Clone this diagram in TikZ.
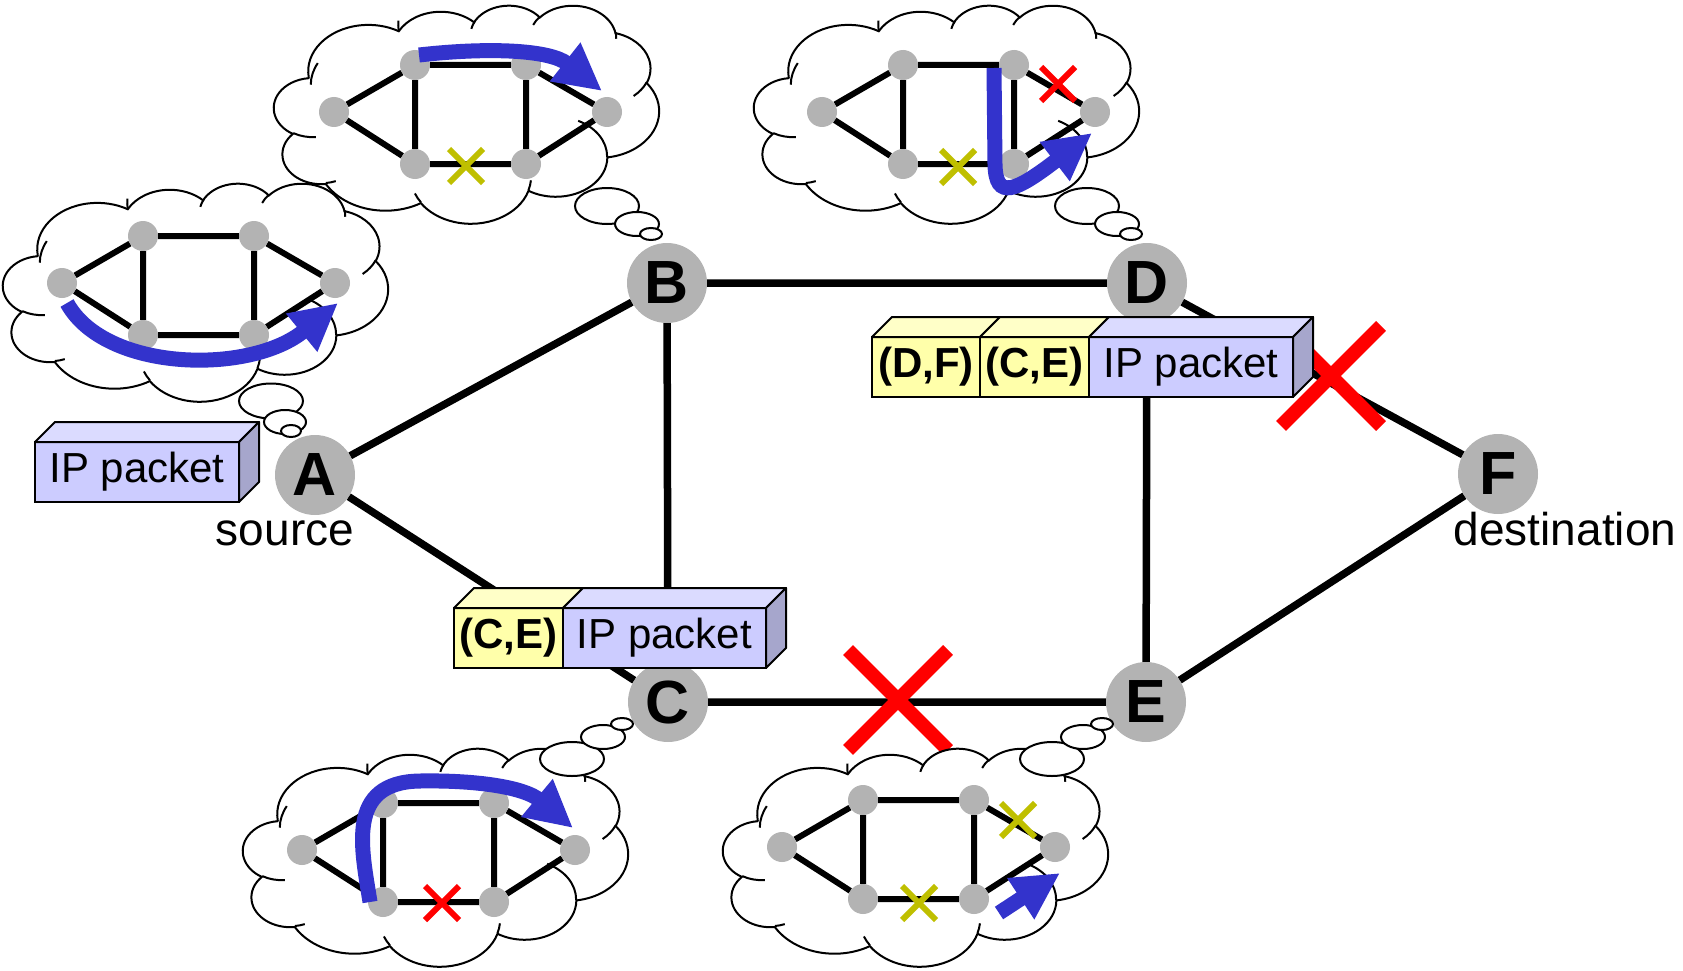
\documentclass[tikz,border=0pt]{standalone}
\usepackage{fontspec}
\setmainfont{Liberation Sans}
\usetikzlibrary{arrows.meta}
\definecolor{nodegray}{RGB}{179,179,179}
\definecolor{pktfront}{RGB}{204,204,255}
\definecolor{pkttop}{RGB}{219,219,255}
\definecolor{pktside}{RGB}{166,166,204}
\definecolor{hdrfront}{RGB}{255,255,170}
\definecolor{hdrtop}{RGB}{255,255,200}
\definecolor{arrowblue}{RGB}{51,51,204}
\definecolor{xolive}{RGB}{191,191,0}
\tikzset{
  mainnode/.style={circle, fill=nodegray, minimum size=80pt, inner sep=0pt, font=\fontsize{61}{61}\selectfont\bfseries},
  mainedge/.style={line width=7.5pt},
  mininode/.style={circle, fill=nodegray, minimum size=30pt, inner sep=0pt},
  miniedge/.style={line width=6pt},
  pkt/.style={draw, line width=2pt, fill=pktfront, minimum height=60pt, inner sep=0pt, outer sep=0pt, font=\fontsize{42}{42}\selectfont},
  hdr/.style={pkt, fill=hdrfront, font=\fontsize{42}{42}\selectfont\bfseries},
  face/.style={draw, line width=2pt, line join=round},
  cloudline/.style={line width=2pt},
  bubble/.style={draw, fill=white, line width=2pt},
  bluearrow/.style={draw=arrowblue, line width=15pt, -{Triangle[width=46pt,length=47pt]}},
  bigx/.style={red, line width=14pt},
  redx/.style={red, line width=6pt},
  olivex/.style={xolive, line width=6pt},
  lbl/.style={font=\fontsize{46}{46}\selectfont, anchor=base},
}
% top face of a box node
\newcommand\topface[2]{\draw[face, fill=#2] (#1.north west) -- ++(20,-20) -- ([shift={(20,-20)}]#1.north east) -- (#1.north east) -- cycle;}
% side face of a box node
\newcommand\sideface[2]{\draw[face, fill=#2] (#1.north east) -- ++(20,-20) -- ([shift={(20,-20)}]#1.south east) -- (#1.south east) -- cycle;}
% cross mark: x, y, half size, style
\newcommand\xmark[4]{\draw[#4] (#1,#2) ++(-#3,-#3) -- ++(2*#3,2*#3) (#1,#2) ++(-#3,#3) -- ++(2*#3,-2*#3);}
% thought cloud with top-left corner at (#1,#2)
\newcommand\thoughtcloud[2]{%
  \begin{scope}[shift={(#1,#2)}, x=0.08912pt, y=-0.05046pt]
    \draw[cloudline, fill=white] (390,1437)
      arc[start angle=172.25, end angle=300.35, x radius=675.3, y radius=919.0]
      arc[start angle=-152.02, end angle=-45.47, x radius=533.3, y radius=726.7]
      arc[start angle=-153.48, end angle=-37.32, x radius=436.5, y radius=594.5]
      arc[start angle=-139.71, end angle=-10.21, x radius=485.7, y radius=659.5]
      arc[start angle=-74.78, end angle=23.21, x radius=533.3, y radius=727.3]
      arc[start angle=-37.53, end angle=81.86, x radius=677.5, y radius=922.0]
      arc[start angle=0.46, end angle=121.98, x radius=578.5, y radius=786.7]
      arc[start angle=16.84, end angle=146.24, x radius=675.2, y radius=921.5]
      arc[start angle=59.03, end angle=150.16, x radius=772.0, y radius=1054.3]
      arc[start angle=83.30, end angle=223.09, x radius=436.0, y radius=591.8]
      arc[start angle=120.38, end angle=264.11, x radius=434.5, y radius=594.5]
      -- cycle;
    \draw[cloudline]
      (469.3,2617.7) arc[start angle=85.54, end angle=120.38, x radius=434.5, y radius=594.5]
      (692.8,3489.9) arc[start angle=68.25, end angle=83.30, x radius=436.0, y radius=591.8]
      (1647.8,3909.0) arc[start angle=146.24, end angle=158.48, x radius=675.2, y radius=921.5]
      (2882.7,3475.1) arc[start angle=4.74, end angle=16.84, x radius=675.2, y radius=921.5]
      (3412.9,2295.4) arc[start angle=-64.00, end angle=0.46, x radius=578.5, y radius=786.7]
      (4179.8,1535.4) arc[start angle=23.21, end angle=49.67, x radius=533.3, y radius=727.3]
      (3832.4,542.6) arc[start angle=-10.21, end angle=0.82, x radius=485.7, y radius=659.5]
      (2907.8,395.2) arc[start angle=-156.28, end angle=-139.71, x radius=485.7, y radius=659.5]
      (2214.1,472.0) arc[start angle=-167.73, end angle=-153.48, x radius=436.5, y radius=594.5]
      (1400.0,519.2) arc[start angle=-187.75, end angle=-174.66, x radius=675.3, y radius=919.0]
      (412.7,1578.9) arc[start angle=180.17, end angle=207.91, x radius=675.3, y radius=919.0];
  \end{scope}}
% small network graph: prefix, position of left node
\newcommand\minigraph[3]{%
  \begin{scope}[shift={(#2,#3)}]
    \node[mininode] (#1a) at (0,0) {};
    \node[mininode] (#1b) at (81,-47) {};
    \node[mininode] (#1c) at (192,-47) {};
    \node[mininode] (#1d) at (273,0) {};
    \node[mininode] (#1e) at (192,52) {};
    \node[mininode] (#1f) at (81,52) {};
  \end{scope}
  \draw[miniedge] (#1a) -- (#1b) -- (#1c) -- (#1d) -- (#1e) -- (#1f) -- (#1a)
    (#1b) -- (#1f) (#1c) -- (#1e);}
\begin{document}
\begin{tikzpicture}[x=1pt, y=-1pt]
\useasboundingbox (0,0) rectangle (1683,971);
% main network
\node[mainnode] (A) at (315,475) {A};
\node[mainnode] (B) at (667,283) {B};
\node[mainnode] (C) at (668,702) {C};
\node[mainnode] (D) at (1147,283) {D};
\node[mainnode] (E) at (1146,702) {E};
\node[mainnode] (F) at (1498,474) {F};
\draw[mainedge] (A) -- (B) (A) -- (C) (B) -- (D) (B) -- (C) (C) -- (E)
  (D) -- (E) (D) -- (F) (E) -- (F);
\node[lbl] (src) at (285,545) {source};
\node[lbl] (dst) at (1565,545) {destination};
% failed links
\xmark{1331}{376}{50}{bigx}
\xmark{898}{700}{50}{bigx}
% packets
\node[pkt, minimum width=204pt] (p1) at (137,472) {IP packet};
\topface{p1}{pkttop}\sideface{p1}{pktside}
\node[hdr, minimum width=109pt] (r1) at (508.5,638) {(C,E)};
\node[pkt, minimum width=203pt] (r2) at (664.5,638) {IP packet};
\topface{r1}{hdrtop}\topface{r2}{pkttop}\sideface{r2}{pktside}
\node[hdr, minimum width=108pt] (q1) at (926,367) {(D,F)};
\node[hdr, minimum width=109pt] (q2) at (1034.5,367) {(C,E)};
\node[pkt, minimum width=204pt] (q3) at (1191,367) {IP packet};
\topface{q1}{hdrtop}\topface{q2}{hdrtop}\topface{q3}{pkttop}\sideface{q3}{pktside}
% clouds
\thoughtcloud{274}{5}
\thoughtcloud{754}{5}
\thoughtcloud{3}{183}
\thoughtcloud{243}{748}
\thoughtcloud{723}{748}
% thought bubbles
\draw[bubble] (271,401) ellipse [x radius=32, y radius=17.5];
\draw[bubble] (285,422) ellipse [x radius=21, y radius=12];
\draw[bubble] (291,431) ellipse [x radius=10, y radius=6];
\draw[bubble] (607,206) ellipse [x radius=32, y radius=18];
\draw[bubble] (637,224) ellipse [x radius=22, y radius=12];
\draw[bubble] (651,234) ellipse [x radius=11, y radius=6];
\draw[bubble] (1087,206) ellipse [x radius=32, y radius=18];
\draw[bubble] (1117,224) ellipse [x radius=22, y radius=12];
\draw[bubble] (1131,234) ellipse [x radius=11, y radius=6];
\draw[bubble] (572,759) ellipse [x radius=32, y radius=17];
\draw[bubble] (603,737) ellipse [x radius=22, y radius=12];
\draw[bubble] (622,724) ellipse [x radius=11, y radius=6];
\draw[bubble] (1052,759) ellipse [x radius=32, y radius=17];
\draw[bubble] (1083,737) ellipse [x radius=22, y radius=12];
\draw[bubble] (1102,724) ellipse [x radius=11, y radius=6];
% graphs inside clouds
\minigraph{g1}{62}{283}
\minigraph{g2}{334}{112}
\minigraph{g3}{822}{112}
\minigraph{g4}{302}{850}
\minigraph{g5}{782}{847}
\xmark{466}{166}{17}{olivex}
\xmark{1058}{84}{17}{redx}
\xmark{958}{167}{17}{olivex}
\xmark{442}{903}{17}{redx}
\xmark{1018}{820}{17}{olivex}
\xmark{919}{903}{17}{olivex}
% routes
\draw[bluearrow] (67,303) .. controls (105,372) and (250,375) .. (338,303);
\draw[bluearrow] (419,55) .. controls (490,47) and (550,50) .. (602,91);
\draw[bluearrow] (994,68) -- (995,165) .. controls (996,200) and (1015,192) .. (1092,133);
\draw[bluearrow] (370,902) .. controls (362,850) and (345,782) .. (420,781) .. controls (480,780) and (525,788) .. (573,828);
\draw[bluearrow] (999,913) -- (1060,873);
\end{tikzpicture}
\end{document}
